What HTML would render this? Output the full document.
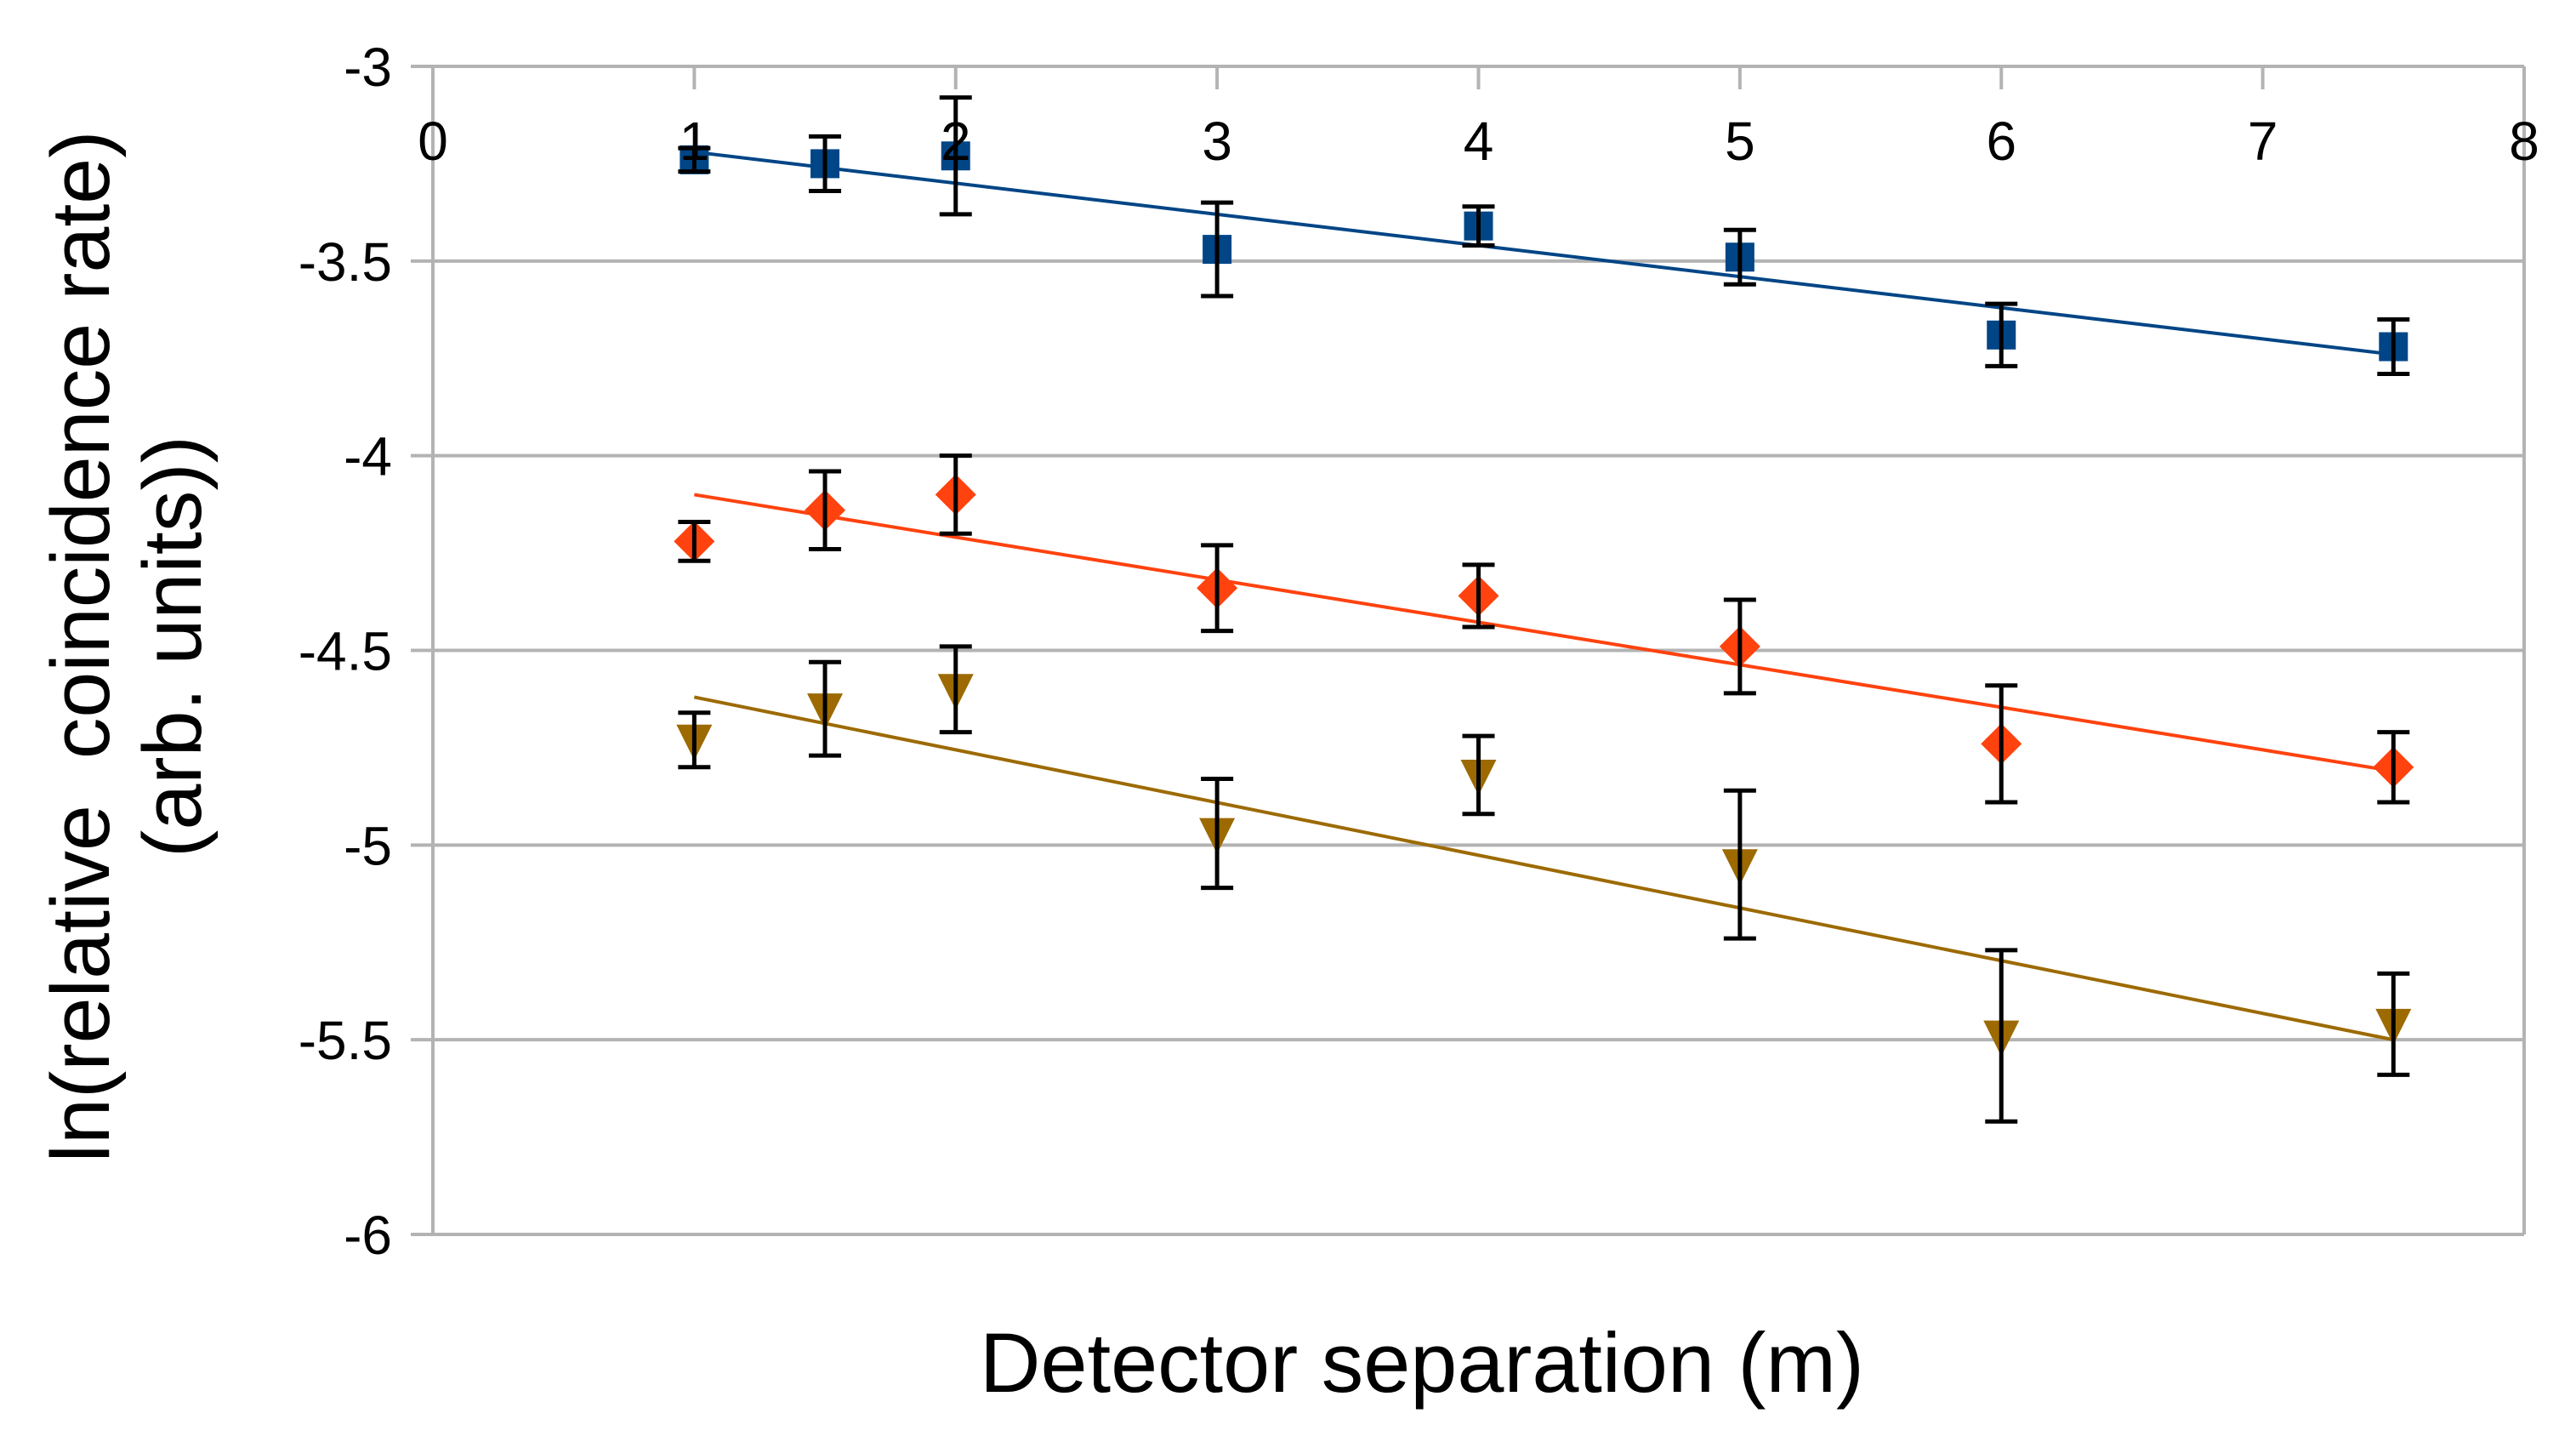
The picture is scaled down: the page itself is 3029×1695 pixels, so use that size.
<!DOCTYPE html>
<html><head><meta charset="utf-8"><style>
html,body{margin:0;padding:0;background:#fff;}
svg{display:block;font-family:"Liberation Sans",sans-serif;}
</style></head><body>
<svg id="chart" width="3029" height="1695" viewBox="0 0 3029 1695" xmlns="http://www.w3.org/2000/svg">
<g id="grid"></g>
<g id="fits"></g>
<g id="marks"></g>
<g id="labels"></g>
<text x="1672" y="1636" font-size="99" text-anchor="middle" fill="#000">Detector separation (m)</text>
<g transform="translate(128,760) rotate(-90)">
<text x="0" y="0" font-size="97" text-anchor="middle" fill="#000" xml:space="preserve">ln(relative  coincidence rate)</text>
<text x="0" y="108" font-size="97" text-anchor="middle" fill="#000">(arb. units))</text>
</g>
</svg>
<script>
const xs = [1, 1.5, 2, 3, 4, 5, 6, 7.5];
const blueY = [-3.24, -3.25, -3.23, -3.47, -3.41, -3.49, -3.69, -3.72];
const blueErr = [0.03, 0.07, 0.15, 0.12, 0.05, 0.07, 0.08, 0.07];
const redY = [-4.22, -4.14, -4.10, -4.34, -4.36, -4.49, -4.74, -4.80];
const redErr = [0.05, 0.10, 0.10, 0.11, 0.08, 0.12, 0.15, 0.09];
const brownY = [-4.73, -4.65, -4.60, -4.97, -4.82, -5.05, -5.49, -5.46];
const brownErr = [0.07, 0.12, 0.11, 0.14, 0.10, 0.19, 0.22, 0.13];
const blueFit = [-3.22, -3.74];
const redFit = [-4.10, -4.81];
const brownFit = [-4.62, -5.50];
const fitX = [1, 7.5];
const xTicks = [0, 1, 2, 3, 4, 5, 6, 7, 8];
const yTicks = [-3, -3.5, -4, -4.5, -5, -5.5, -6];

const X0 = 509, X1 = 2968, Y0 = 78, Y1 = 1451;
const xMin = 0, xMax = 8, yMax = -3, yMin = -6;
function sx(v){ return X0 + (v - xMin) / (xMax - xMin) * (X1 - X0); }
function sy(v){ return Y0 + (yMax - v) / (yMax - yMin) * (Y1 - Y0); }
const NS = "http://www.w3.org/2000/svg";
function mk(tag, attrs, parent){
  const e = document.createElementNS(NS, tag);
  for (const k in attrs) e.setAttribute(k, attrs[k]);
  parent.appendChild(e);
  return e;
}
const grid = document.getElementById('grid');
const labels = document.getElementById('labels');
yTicks.forEach(t => {
  const l = mk('line', {x1: X0 - 26, x2: X1, y1: sy(t), y2: sy(t), stroke: '#b3b3b3', 'stroke-width': 4}, grid);
  
  
  const tx = mk('text', {x: X0 - 48, y: sy(t) + 23, 'font-size': 64, 'text-anchor': 'end', fill: '#000'}, labels);
  tx.textContent = String(t);
  
  
});
const la = mk('line', {x1: X0, x2: X0, y1: Y0, y2: Y1, stroke: '#b3b3b3', 'stroke-width': 4}, grid);


const ra = mk('line', {x1: X1, x2: X1, y1: Y0, y2: Y1, stroke: '#b3b3b3', 'stroke-width': 4}, grid);


xTicks.forEach(t => {
  const l = mk('line', {x1: sx(t), x2: sx(t), y1: Y0, y2: Y0 + 27, stroke: '#b3b3b3', 'stroke-width': 4}, grid);
  
  
  const tx = mk('text', {x: sx(t), y: Y0 + 110, 'font-size': 64, 'text-anchor': 'middle', fill: '#000'}, labels);
  tx.textContent = String(t);
  
  
});
const fits = document.getElementById('fits');
[[blueFit, '#004586', 'fit-line-blue'], [redFit, '#ff420e', 'fit-line-red'], [brownFit, '#9c6a00', 'fit-line-brown']].forEach(([f, c, n]) => {
  const l = mk('line', {x1: sx(fitX[0]), y1: sy(f[0]), x2: sx(fitX[1]), y2: sy(f[1]), stroke: c, 'stroke-width': 4}, fits);
  
  
});
const marks = document.getElementById('marks');
function series(ys, errs, color, shape, name){
  ys.forEach((v, i) => {
    const cx = sx(xs[i]), cy = sy(v);
    let m;
    if (shape === 'square') m = mk('rect', {x: cx - 17, y: cy - 17, width: 34, height: 34, fill: color}, marks);
    else if (shape === 'diamond') m = mk('polygon', {points: `${cx},${cy-24} ${cx+24},${cy} ${cx},${cy+24} ${cx-24},${cy}`, fill: color}, marks);
    else m = mk('polygon', {points: `${cx-21},${cy-18} ${cx+21},${cy-18} ${cx},${cy+24}`, fill: color}, marks);
    
    
    const e = errs[i], t = sy(v + e), b = sy(v - e);
    const g = mk('path', {d: `M${cx},${t}V${b}M${cx-19},${t}H${cx+19}M${cx-19},${b}H${cx+19}`, stroke: '#000', 'stroke-width': 5, fill: 'none'}, marks);
    
    
  });
}
series(blueY, blueErr, '#004586', 'square', 'blue');
series(redY, redErr, '#ff420e', 'diamond', 'red');
series(brownY, brownErr, '#9c6a00', 'triangle', 'brown');
</script>
</body></html>
